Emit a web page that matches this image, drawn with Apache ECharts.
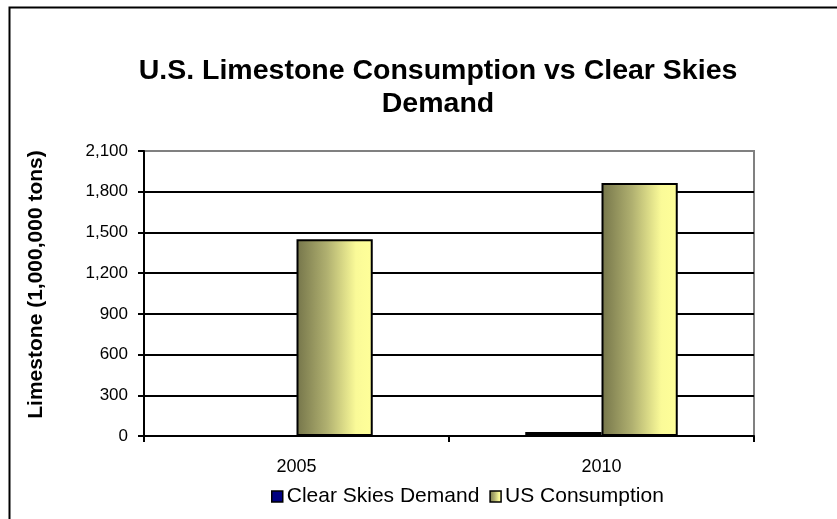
<!DOCTYPE html>
<html><head><meta charset="utf-8">
<script src="https://cdn.jsdelivr.net/npm/echarts@6/dist/echarts.min.js"></script>
<style>html,body{margin:0;padding:0;background:#fff}#c{width:837px;height:519px}</style>
</head><body><div id="c"></div>
<script>
const categories = ['2005', '2010'];
const clearSkiesDemand = [0, 30];
const usConsumption = [1450, 1865];
const yTicks = { min: 0, max: 2100, interval: 300 };
const titleText = 'U.S. Limestone Consumption vs Clear Skies\nDemand';
const yAxisName = 'Limestone (1,000,000 tons)';

const FONT = '"Liberation Sans", Arial, sans-serif';
const chart = echarts.init(document.getElementById('c'), null, { renderer: 'canvas' });
const nLines = (yTicks.max - yTicks.min) / yTicks.interval + 1;
const splitColors = Array.from({ length: nLines }, (_, i) => i === nLines - 1 ? '#808080' : '#000000');

chart.setOption({
  animation: false,
  backgroundColor: '#ffffff',
  textStyle: { fontFamily: FONT },
  title: {
    text: titleText,
    left: 433, top: 50, textAlign: 'center',
    textStyle: { fontFamily: FONT, fontSize: 28.5, fontWeight: 'bold', color: '#000', lineHeight: 33, align: 'center' }
  },
  graphic: [{
    type: 'rect', left: 7, top: 5, z: -1, silent: true,
    shape: { width: 900, height: 600 },
    style: { fill: 'none', stroke: '#000', lineWidth: 2 }
  }],
  legend: {
    bottom: 7, left: 266, itemWidth: 11, itemHeight: 11, itemGap: 10,
    icon: 'rect',
    textStyle: { fontFamily: FONT, fontSize: 21, color: '#000', padding: [0, 0, 0, -1] },
    data: [
      { name: 'Clear Skies Demand', itemStyle: { color: '#000080', borderColor: '#000', borderWidth: 1.5 } },
      { name: 'US Consumption', itemStyle: { borderColor: '#000', borderWidth: 1.5 } }
    ]
  },
  grid: { left: 144, right: 83, top: 151, bottom: 83, show: true, borderColor: '#808080', borderWidth: 2, containLabel: false },
  xAxis: {
    type: 'category', data: categories,
    axisLine: { lineStyle: { color: '#000', width: 2 } },
    axisTick: { show: true, length: 6, lineStyle: { color: '#000', width: 2 } },
    axisLabel: { color: '#000', fontSize: 18, margin: 22, fontFamily: FONT }
  },
  yAxis: {
    type: 'value', min: yTicks.min, max: yTicks.max, interval: yTicks.interval,
    name: yAxisName, nameLocation: 'middle', nameGap: 97,
    nameTextStyle: { fontFamily: FONT, fontSize: 21, fontWeight: 'bold', color: '#000', padding: [0, 0, 0, 18] },
    axisLine: { show: true, lineStyle: { color: '#000', width: 2 } },
    axisTick: { show: true, length: 6, lineStyle: { color: '#000', width: 2 } },
    axisLabel: { color: '#000', fontSize: 17, margin: 16, fontFamily: FONT,
      formatter: v => v.toLocaleString('en-US') },
    splitLine: { show: true, lineStyle: { color: splitColors, width: 2 } }
  },
  series: [
    {
      name: 'Clear Skies Demand', type: 'bar', data: clearSkiesDemand,
      barGap: '0%', barCategoryGap: '50%',
      itemStyle: { color: '#000080', borderColor: '#000', borderWidth: 2 }
    },
    {
      name: 'US Consumption', type: 'bar', data: usConsumption,
      barGap: '0%', barCategoryGap: '50%',
      itemStyle: {
        color: new echarts.graphic.LinearGradient(0, 0, 1, 0, [
          { offset: 0, color: '#75754a' },
          { offset: 0.4, color: '#b0b070' },
          { offset: 0.78, color: '#fafa98' },
          { offset: 1, color: '#ffff99' }
        ]),
        borderColor: '#000', borderWidth: 2
      }
    }
  ]
});
</script></body></html>
